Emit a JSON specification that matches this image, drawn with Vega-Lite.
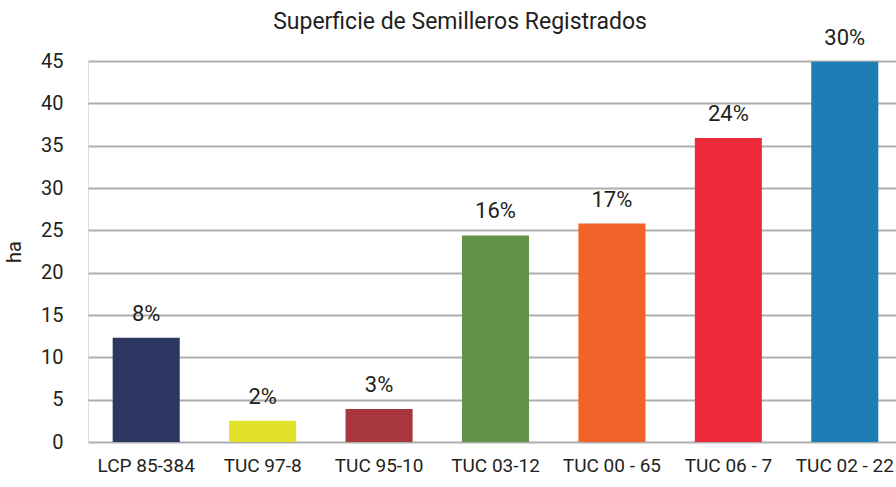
{
  "$schema": "https://vega.github.io/schema/vega-lite/v6.json",
  "width": 808,
  "height": 381,
  "autosize": {"type": "none"},
  "padding": {"left": 88, "top": 61, "right": 0, "bottom": 45},
  "background": "white",
  "title": {
    "text": "Superficie de Semilleros Registrados",
    "font": "Roboto",
    "fontSize": 23,
    "fontWeight": "normal",
    "color": "#231f20",
    "anchor": "middle",
    "frame": "group",
    "dx": -32,
    "offset": 20,
    "dy": 27
  },
  "data": {
    "values": [
      {"variedad": "LCP 85-384", "ha": 12.3, "pct": "8%", "color": "#2b3760"},
      {"variedad": "TUC 97-8", "ha": 2.5, "pct": "2%", "color": "#e3e22b"},
      {"variedad": "TUC 95-10", "ha": 3.9, "pct": "3%", "color": "#a8363d"},
      {"variedad": "TUC 03-12", "ha": 24.4, "pct": "16%", "color": "#629346"},
      {"variedad": "TUC 00 - 65", "ha": 25.8, "pct": "17%", "color": "#f2632a"},
      {"variedad": "TUC 06 - 7", "ha": 35.9, "pct": "24%", "color": "#ee2b3c"},
      {"variedad": "TUC 02 - 22", "ha": 44.9, "pct": "30%", "color": "#1f7db5"}
    ]
  },
  "encoding": {
    "x": {
      "field": "variedad",
      "type": "nominal",
      "sort": null,
      "scale": {"paddingInner": 0.424, "paddingOuter": 0.212, "range": [0, 815]},
      "axis": {
        "title": null,
        "labelAngle": 0,
        "labelFont": "Roboto",
        "labelFontSize": 19,
        "labelColor": "#231f20",
        "labelPadding": 14,
        "ticks": false,
        "domain": false
      }
    },
    "y": {
      "field": "ha",
      "type": "quantitative",
      "scale": {"domain": [0, 45], "nice": false},
      "axis": {
        "title": "ha",
        "titleFont": "Roboto",
        "titleFontSize": 20,
        "titleFontWeight": "normal",
        "titleColor": "#231f20",
        "titlePadding": 16,
        "values": [0, 5, 10, 15, 20, 25, 30, 35, 40, 45],
        "labelFont": "Roboto",
        "labelFontSize": 20,
        "labelColor": "#231f20",
        "labelPadding": 25,
        "ticks": false,
        "domain": false,
        "grid": true,
        "gridColor": "#aeaeae",
        "gridWidth": 2
      }
    }
  },
  "layer": [
    {
      "mark": {"type": "bar"},
      "encoding": {
        "color": {"field": "color", "type": "nominal", "scale": null}
      }
    },
    {
      "mark": {
        "type": "text",
        "baseline": "bottom",
        "dy": -12,
        "font": "Roboto",
        "fontSize": 22,
        "color": "#231f20"
      },
      "encoding": {
        "text": {"field": "pct", "type": "nominal"}
      }
    }
  ]
}
